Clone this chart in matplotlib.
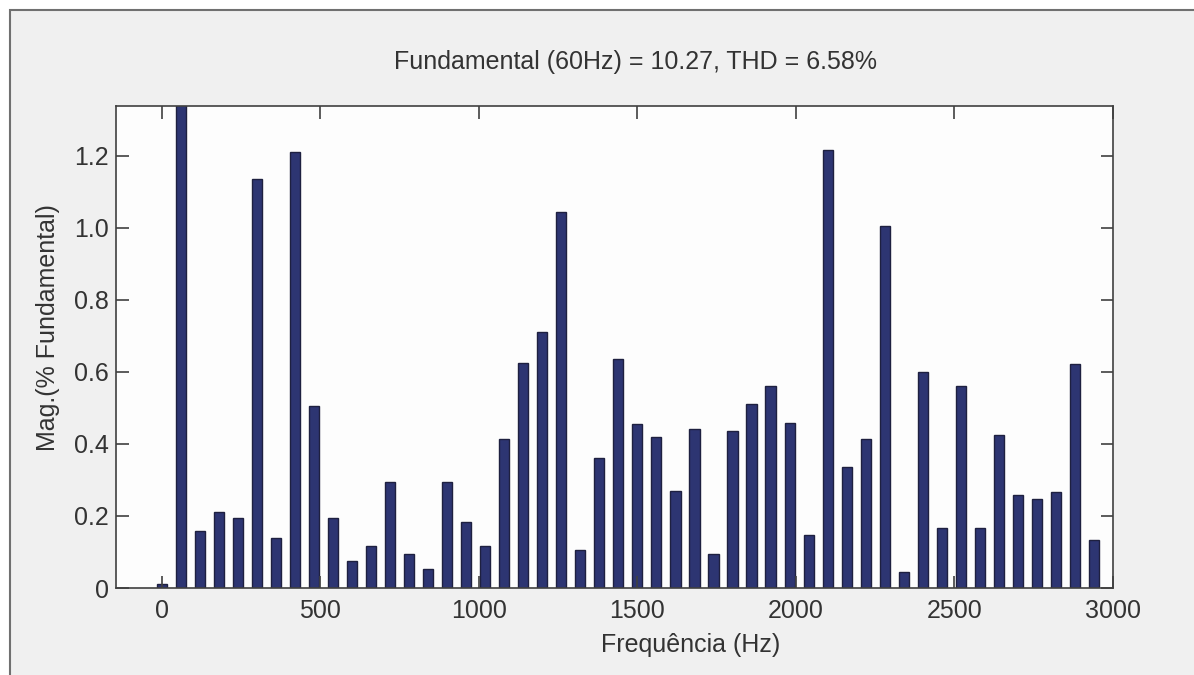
import matplotlib
matplotlib.use("Agg")
import matplotlib.pyplot as plt
from matplotlib.patches import Rectangle
import numpy as np

plt.rcParams['font.family'] = ['Liberation Sans', 'DejaVu Sans']

# harmonic frequencies (Hz) and magnitudes (% of fundamental)
freqs = np.arange(0, 3000, 60)
mags = [0.011, 100.0, 0.159, 0.212, 0.193, 1.134, 0.140, 1.209, 0.505, 0.193,
        0.076, 0.117, 0.295, 0.094, 0.053, 0.295, 0.182, 0.117, 0.413, 0.625,
        0.709, 1.043, 0.106, 0.360, 0.636, 0.454, 0.420, 0.269, 0.440, 0.094,
        0.436, 0.511, 0.560, 0.458, 0.147, 1.216, 0.337, 0.413, 1.004, 0.044,
        0.598, 0.167, 0.561, 0.167, 0.425, 0.257, 0.246, 0.265, 0.621, 0.132]
xticks = [0, 500, 1000, 1500, 2000, 2500, 3000]
yticks = [0, 0.2, 0.4, 0.6, 0.8, 1.0, 1.2]
ytick_labels = ['0', '0.2', '0.4', '0.6', '0.8', '1.0', '1.2']

txt = '#333333'
fs = 18
W, H = 1194, 675
fig = plt.figure(figsize=(W / 100, H / 100), dpi=100, facecolor='white')

# grey panel with frame on top/left
panel = Rectangle((10 / W, -0.1), 1.2, 1.1 - 10 / H, transform=fig.transFigure,
                  facecolor='#f0f0f0', edgecolor='#707070', linewidth=1.5, zorder=-5)
fig.patches.append(panel)

ax = fig.add_axes([115.5 / W, 1 - 588 / H, (1113 - 115.5) / W, (588 - 106.5) / H])
ax.set_zorder(2)
ax.set_facecolor('#fdfdfd')
ax.bar(freqs, mags, width=32, color='#2d3572', edgecolor='#1e2040', linewidth=1.0)

ax.set_xlim(-146, 3000)
ax.set_ylim(0, 1.336)
ax.set_xticks(xticks)
ax.set_xticklabels([str(t) for t in xticks])
ax.set_yticks(yticks)
ax.set_yticklabels(ytick_labels)
ax.tick_params(direction='in', top=True, right=True, length=9, width=1.2,
               color='#404040', labelsize=fs, labelcolor=txt)
ax.tick_params(axis='x', pad=8)
ax.tick_params(axis='y', pad=5)
for s in ax.spines.values():
    s.set_color('#404040')
    s.set_linewidth(1.2)

fig.text(635 / W, 1 - 62 / H, 'Fundamental (60Hz) = 10.27, THD = 6.58%',
         ha='center', va='center', fontsize=fs, color=txt)
fig.text(691 / W, 1 - 645 / H, 'Frequência (Hz)', ha='center', va='center',
         fontsize=fs, color=txt)
fig.text(48 / W, 1 - 328 / H, 'Mag.(% Fundamental)', ha='center', va='center',
         rotation=90, fontsize=fs, color=txt)

fig.savefig('out.png', dpi=100, facecolor=fig.get_facecolor())
